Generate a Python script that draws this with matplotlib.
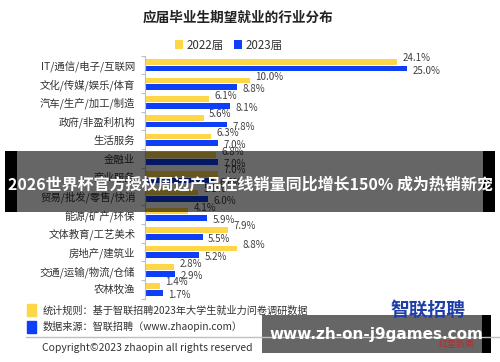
import matplotlib
matplotlib.use("Agg")
import matplotlib.pyplot as plt
import numpy as np
from matplotlib.patches import Rectangle

plt.rcParams['font.family'] = ['Noto Sans CJK SC', 'DejaVu Sans']

categories = ['IT/通信/电子/互联网', '文化/传媒/娱乐/体育', '汽车/生产/加工/制造',
              '政府/非盈利机构', '生活服务', '金融业', '商业服务',
              '贸易/批发/零售/快消', '能源/矿产/环保', '文体教育/工艺美术',
              '房地产/建筑业', '交通/运输/物流/仓储', '农林牧渔']
y2022 = [24.1, 10.0, 6.1, 5.6, 6.3, 6.8, 7.0, 5.1, 4.1, 7.9, 8.8, 2.8, 1.4]
y2023 = [25.0, 8.8, 8.1, 7.8, 7.0, 7.0, 6.6, 6.0, 5.9, 5.5, 5.2, 2.9, 1.7]
series = ['2022届', '2023届']

yellow = '#FFD647'
blue = '#0E3EF6'

fig = plt.figure(figsize=(5, 3.62), dpi=100)
ax = fig.add_axes([0.29, 0.175, 0.67, 0.671])

pos = np.arange(len(categories))
h = 0.31
ax.barh(pos - 0.18, y2022, height=h, color=yellow, label=series[0])
ax.barh(pos + 0.18, y2023, height=h, color=blue, label=series[1])

# value labels: 2022 a bit above its bar, 2023 a bit below
for p, v in zip(pos, y2022):
    ax.annotate(f'{v:.1f}%', (v, p - 0.18), xytext=(4, 2.5), textcoords='offset points',
                va='center', ha='left', fontsize=7, color='#404040')
for p, v in zip(pos, y2023):
    ax.annotate(f'{v:.1f}%', (v, p + 0.18), xytext=(4, -1.5), textcoords='offset points',
                va='center', ha='left', fontsize=7, color='#404040')

ax.set_ylim(len(categories) - 0.5, -0.5)
ax.set_xlim(0, 32)
ax.set_yticks(pos)
ax.set_yticklabels(categories, fontsize=7.5, color='#333333')
ax.set_yticks(np.arange(-0.5, len(categories), 1), minor=True)
ax.tick_params(axis='y', which='major', length=0, pad=7)
ax.tick_params(axis='y', which='minor', length=3, color='#bfbfbf', width=0.8)
ax.set_xticks([])
for s in ['top', 'right', 'bottom']:
    ax.spines[s].set_visible(False)
ax.spines['left'].set_color('#bfbfbf')
ax.spines['left'].set_linewidth(0.8)

fig.text(0.476, 1 - 18 / 362, '应届毕业生期望就业的行业分布', ha='center', va='center',
         fontsize=9.8, fontweight='bold', color='#222222')

fig.legend(loc='center', bbox_to_anchor=(229 / 500, 1 - 45 / 362), ncol=2, frameon=False,
           fontsize=8.3, handlelength=0.7, handleheight=0.7, handletextpad=0.3,
           columnspacing=0.9, labelcolor='#333333')

# overlay layer in pixel coordinates for footer and banners
ov = fig.add_axes([0, 0, 1, 1], zorder=10)
ov.set_xlim(0, 500)
ov.set_ylim(362, 0)
ov.axis('off')

ov.add_patch(Rectangle((27, 304), 8.5, 11.5, color=yellow))
ov.add_patch(Rectangle((27, 321), 8.5, 11.5, color=blue))
ov.text(43, 311, '统计规则：基于智联招聘2023年大学生就业力问卷调研数据', fontsize=7.3,
        va='center', color='#333333')
ov.text(43, 327, '数据来源：智联招聘（www.zhaopin.com）', fontsize=7.3,
        va='center', color='#333333')
ov.plot([26, 500], [337, 337], color='#bfbfbf', lw=1)
ov.text(42, 348, 'Copyright©2023 zhaopin all rights reserved', fontsize=7.5,
        va='center', color='#333333')

ov.text(428, 310, '智联招聘', fontsize=13.5, fontweight='bold', ha='center',
        va='center', color='#1f3fa8')

# center banner
ov.add_patch(Rectangle((5, 151), 490, 61, color='black', alpha=0.6, lw=0))
ov.add_patch(Rectangle((5, 151), 12, 61, color='black', lw=0))
ov.add_patch(Rectangle((483, 151), 12, 61, color='black', lw=0))
ov.text(250, 185, '2026世界杯官方授权周边产品在线销量同比增长150% 成为热销新宠',
        fontsize=11.5, fontweight='bold', ha='center', va='center', color='white')

# bottom right box
ov.add_patch(Rectangle((262, 315), 229, 38, color='black', alpha=0.6, lw=0))
ov.add_patch(Rectangle((482, 315), 9, 38, color='black', lw=0))
ov.text(376, 335, 'www.zh-on-j9games.com', fontsize=11, fontweight='bold',
        ha='center', va='center', color='white', family='DejaVu Sans')
ov.text(457, 345, '红星新闻', fontsize=6.5, ha='center', va='center', color='#b03030')

fig.savefig('out.png', dpi=100)
